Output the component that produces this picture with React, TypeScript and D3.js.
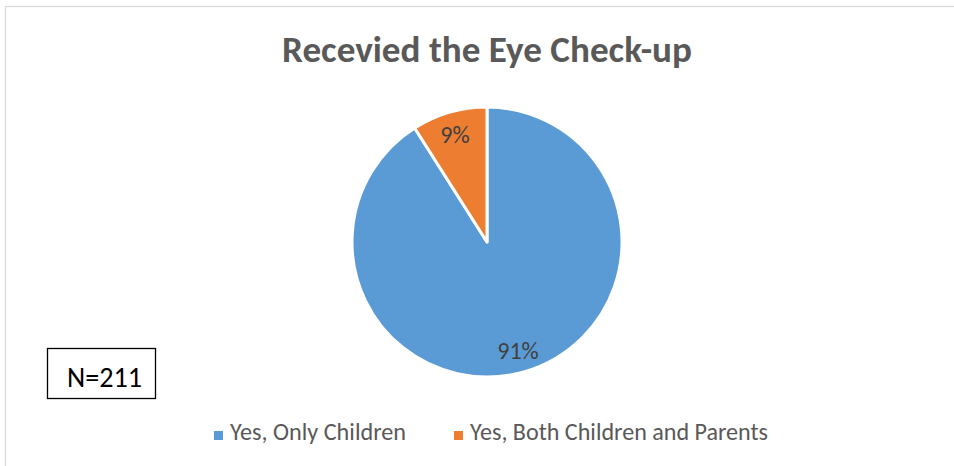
import React from "react";
import * as d3 from "d3";

const categories = ["Yes, Only Children", "Yes, Both Children and Parents"];
const values = [91, 9];
const labels = ["91%", "9%"];
const colors = ["#5B9BD5", "#ED7D31"];
const title = "Recevied the Eye Check-up";
const note = "N=211";

export default function App() {
  const W = 954, H = 466;
  const cx = 487, cy = 242, r = 135;
  const pie = d3.pie<number>().sort(null).value((d) => d);
  const arcs = pie(values);
  const arc = d3.arc<d3.PieArcDatum<number>>().innerRadius(0).outerRadius(r);
  const font = "Carlito, Calibri, 'Open Sans', sans-serif";
  const legendX = [214, 454];
  const legendLen = [176, 298];
  const labelPos = [[518, 359], [455, 143]];
  return (
    <svg width={W} height={H} style={{ position: "absolute", left: 0, top: 0, background: "#fff" }}>
      <rect x={5.5} y={6.5} width={W + 10} height={H + 10} fill="#fff" stroke="#d9d9d9" strokeWidth={1.2} />
      <text x={cx} y={62} textAnchor="middle" fontFamily={font} fontWeight="bold" fontSize={37} fill="#595959" textLength={410} lengthAdjust="spacingAndGlyphs">{title}</text>
      <g transform={`translate(${cx},${cy})`}>
        {arcs.map((a, i) => (
          <path key={i} d={arc(a) || ""} fill={colors[i]} stroke="#fff" strokeWidth={3} strokeLinejoin="round" />
        ))}
      </g>
      {labels.map((l, i) => (
        <text key={l} x={labelPos[i][0]} y={labelPos[i][1]} textAnchor="middle" fontFamily={font} fontSize={24} fill="#404040">{l}</text>
      ))}
      <rect x={47.5} y={348.5} width={108} height={50} fill="#fff" stroke="#000" strokeWidth={1.3} />
      <text x={67} y={387} fontFamily={font} fontSize={28} fill="#000" textLength={75} lengthAdjust="spacingAndGlyphs">{note}</text>
      {categories.map((c, i) => (
        <g key={c}>
          <rect x={legendX[i]} y={431} width={9} height={9} fill={colors[i]} />
          <text x={legendX[i] + 16} y={440} fontFamily={font} fontSize={24} fill="#595959" textLength={legendLen[i]} lengthAdjust="spacingAndGlyphs">{c}</text>
        </g>
      ))}
    </svg>
  );
}
